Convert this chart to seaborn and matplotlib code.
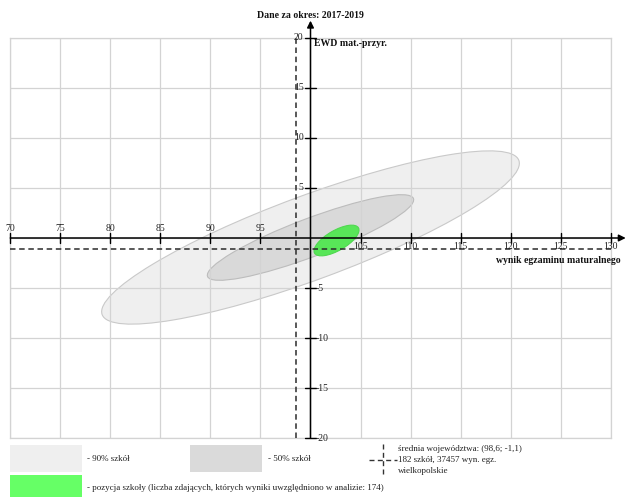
import matplotlib
matplotlib.use("Agg")
import matplotlib.pyplot as plt
import seaborn as sns
from matplotlib.patches import Ellipse, Rectangle
from matplotlib.lines import Line2D

# ---- data ----
x_ticks = [70, 75, 80, 85, 90, 95, 100, 105, 110, 115, 120, 125, 130]
y_ticks = [-20, -15, -10, -5, 0, 5, 10, 15, 20]
mean_x = 98.6
mean_y = -1.1
ell_names = ["90% szkół", "50% szkół", "pozycja szkoły"]
ell_cx = [100.0, 100.0, 102.6]
ell_cy = [0.05, 0.05, -0.25]
ell_width = [44.4, 22.0, 5.06]
ell_height = [8.4, 3.8, 2.0]
ell_angle = [20.3, 20.7, 30.0]

title = "Dane za okres: 2017-2019"
y_title = "EWD mat.-przyr."
x_title = "wynik egzaminu maturalnego"
legend_90 = "- 90% szkół"
legend_50 = "- 50% szkół"
legend_school = "- pozycja szkoły (liczba zdających, których wyniki uwzględniono w analizie: 174)"
legend_mean = ["średnia województwa: (98,6; -1,1)", "182 szkół, 37457 wyn. egz.", "wielkopolskie"]

# ---- style ----
sns.set_theme(style="white")
plt.rcParams["font.family"] = ["Liberation Serif", "DejaVu Serif"]

W, H = 626, 497
fig = plt.figure(figsize=(W / 100, H / 100), dpi=100)


def fx(px):
    return px / W


def fy(py):
    return 1 - py / H


ax = fig.add_axes([fx(10.3), fy(438.3), 600.4 / W, 400.6 / H])
ax.set_xlim(x_ticks[0], x_ticks[-1])
ax.set_ylim(y_ticks[0], y_ticks[-1])
ax.set_xticks(x_ticks)
ax.set_yticks(y_ticks)
ax.tick_params(labelbottom=False, labelleft=False, length=0)
ax.grid(True, color="#d3d3d3", lw=0.9)
ax.set_axisbelow(False)
for s in ax.spines.values():
    s.set_color("#d3d3d3")
    s.set_linewidth(0.9)

# ellipses
faces = ["#efefef", "#d9d9d9", "#58e658"]
edges = ["#c9c9c9", "#bcbcbc", "#4fd84f"]
zs = [1, 1.2, 3]
for i in range(len(ell_names)):
    e = Ellipse((ell_cx[i], ell_cy[i]), ell_width[i], ell_height[i], angle=ell_angle[i],
                facecolor=faces[i], edgecolor=edges[i], lw=0.8, zorder=zs[i])
    ax.add_patch(e)

# mean dashed lines
dash = (0, (3.6, 2.4))
sns.lineplot(x=[mean_x, mean_x], y=[y_ticks[0], y_ticks[-1]], sort=False, estimator=None,
             color="#2b2b2b", lw=1.1, linestyle=dash, ax=ax, zorder=3.5)
sns.lineplot(x=[x_ticks[0], x_ticks[-1]], y=[mean_y, mean_y], sort=False, estimator=None,
             color="#2b2b2b", lw=1.1, linestyle=dash, ax=ax, zorder=3.5)

# main axes with arrows
ax.annotate("", xy=(131.5, 0), xytext=(x_ticks[0], 0),
            arrowprops=dict(arrowstyle="-|>", color="black", lw=1.1, mutation_scale=10,
                            shrinkA=0, shrinkB=0), annotation_clip=False, zorder=4)
ax.annotate("", xy=(100, 21.7), xytext=(100, y_ticks[0]),
            arrowprops=dict(arrowstyle="-|>", color="black", lw=1.1, mutation_scale=10,
                            shrinkA=0, shrinkB=0), annotation_clip=False, zorder=4)

fs = 7
for x in x_ticks:
    if x == 100:
        continue
    ax.plot([x, x], [-0.5, 0.5], color="black", lw=1.0, clip_on=False, zorder=4)
    if x < 100:
        ax.text(x, 0.45, str(x), ha="center", va="bottom", fontsize=fs, color="#222222", zorder=5)
    else:
        ax.text(x, -0.4, str(x), ha="center", va="top", fontsize=fs, color="#222222", zorder=5)
for y in y_ticks:
    if y == 0:
        continue
    ax.plot([99.5, 100.5], [y, y], color="black", lw=1.0, clip_on=False, zorder=4)
    if y > 0:
        ax.text(99.3, y, str(y), ha="right", va="center", fontsize=fs, color="#222222", zorder=5)
    else:
        ax.text(100.5, y, str(y), ha="left", va="center", fontsize=fs, color="#222222", zorder=5)

ax.text(100.3, 19.45, y_title, ha="left", va="center", fontsize=7, fontweight="bold", color="#111111")
ax.text(130.97, -2.22, x_title, ha="right", va="center", fontsize=7, fontweight="bold", color="#111111",
        clip_on=False)
fig.text(fx(310), fy(15), title, ha="center", va="center", fontsize=7, fontweight="bold", color="#111111")

# ---- legend ----
fig.add_artist(Rectangle((fx(10), fy(472)), 72 / W, 27 / H, transform=fig.transFigure,
                         facecolor="#efefef", edgecolor="none"))
fig.add_artist(Rectangle((fx(190), fy(472)), 72 / W, 27 / H, transform=fig.transFigure,
                         facecolor="#dadada", edgecolor="none"))
fig.add_artist(Rectangle((fx(10), fy(500)), 72 / W, 25 / H, transform=fig.transFigure,
                         facecolor="#66ff66", edgecolor="none"))
lfs = 6.5
fig.text(fx(87), fy(459), legend_90, ha="left", va="center", fontsize=lfs, color="#222222")
fig.text(fx(268), fy(459), legend_50, ha="left", va="center", fontsize=lfs, color="#222222")
fig.text(fx(87), fy(488), legend_school, ha="left", va="center", fontsize=lfs, color="#222222")
for k, line in enumerate(legend_mean):
    fig.text(fx(398), fy(449 + 11 * k), line, ha="left", va="center", fontsize=lfs, color="#222222")
fig.add_artist(Line2D([fx(383), fx(383)], [fy(444), fy(476)], transform=fig.transFigure,
                      color="#333333", lw=1.0, linestyle=dash))
fig.add_artist(Line2D([fx(369), fx(397)], [fy(460), fy(460)], transform=fig.transFigure,
                      color="#333333", lw=1.0, linestyle=dash))

fig.savefig("out.png", dpi=100)
